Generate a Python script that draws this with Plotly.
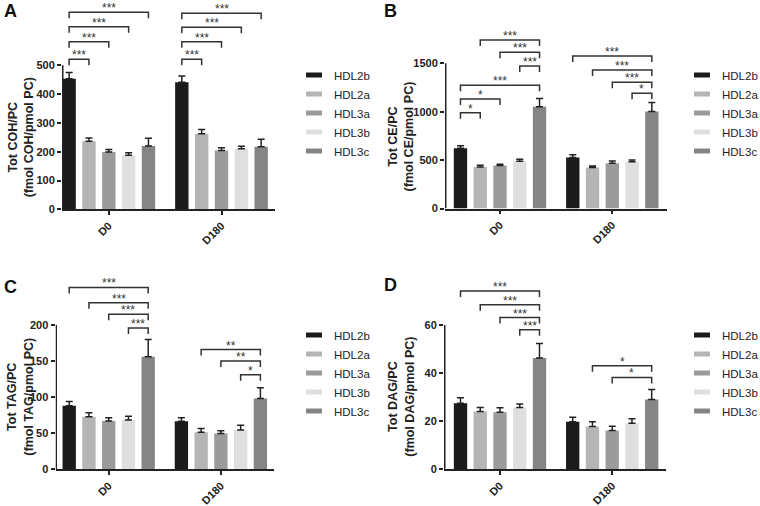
import plotly.graph_objects as go

W, H = 760, 506
FONT = "Liberation Sans, Arial, sans-serif"
INK = "#222222"

# ---------------- data ----------------
series = ["HDL2b", "HDL2a", "HDL3a", "HDL3b", "HDL3c"]
series_colors = ["#1b1b1b", "#b5b5b5", "#9b9b9b", "#dfdfdf", "#858585"]
days = ["D0", "D180"]

# Panel A: Tot COH/PC
coh_d0 = [453, 236, 199, 188, 220]
coh_d0_err = [22, 12, 9, 8, 27]
coh_d180 = [441, 262, 204, 210, 217]
coh_d180_err = [22, 15, 10, 9, 26]

# Panel B: Tot CE/PC
ce_d0 = [622, 430, 443, 488, 1052]
ce_d0_err = [27, 18, 14, 20, 85]
ce_d180 = [527, 423, 468, 482, 1003]
ce_d180_err = [27, 16, 22, 20, 92]

# Panel C: Tot TAG/PC
tag_d0 = [88, 73, 67, 68.5, 156]
tag_d0_err = [6, 5.5, 4.5, 5, 24]
tag_d180 = [66.5, 51.5, 49.5, 54.5, 98]
tag_d180_err = [5, 5, 4, 6.5, 15]

# Panel D: Tot DAG/PC
dag_d0 = [27.5, 24, 23.7, 25.7, 46.3]
dag_d0_err = [2.2, 1.7, 1.9, 1.5, 6]
dag_d180 = [19.8, 17.8, 16.1, 19.1, 29]
dag_d180_err = [1.8, 2, 1.8, 1.9, 4.2]

# significance brackets: (day index, from series, to series, label, bracket height in data units)
coh_brackets = [(0, 0, 1, "***", 521), (0, 0, 2, "***", 582), (0, 0, 3, "***", 634), (0, 0, 4, "***", 684),
                (1, 0, 1, "***", 521), (1, 0, 2, "***", 582), (1, 0, 3, "***", 632), (1, 0, 4, "***", 681)]
ce_brackets = [(0, 0, 1, "*", 990), (0, 0, 2, "*", 1131), (0, 0, 4, "***", 1273), (0, 3, 4, "***", 1472),
               (0, 2, 4, "***", 1614), (0, 1, 4, "***", 1741),
               (1, 3, 4, "*", 1190), (1, 2, 4, "***", 1304), (1, 1, 4, "***", 1431), (1, 0, 4, "***", 1575)]
tag_brackets = [(0, 3, 4, "***", 196), (0, 2, 4, "***", 215), (0, 1, 4, "***", 231), (0, 0, 4, "***", 252),
                (1, 3, 4, "*", 131), (1, 2, 4, "**", 150), (1, 1, 4, "**", 166)]
dag_brackets = [(0, 3, 4, "***", 58.0), (0, 2, 4, "***", 63.1), (0, 1, 4, "***", 68.4), (0, 0, 4, "***", 74.1),
                (1, 2, 4, "*", 38.2), (1, 1, 4, "*", 43.1)]

# ---------------- layout (pixels) ----------------
panels = [
    dict(letter="A", title="Tot COH/PC<br>(fmol COH/pmol PC)",
         d0=coh_d0, d0e=coh_d0_err, d180=coh_d180, d180e=coh_d180_err, brackets=coh_brackets,
         tickmax=500, dtick=100,
         ax_left=62, ax_right=275, g0_px=108.8, unit_px=112.7,
         y0_px=209.3, ytick_px=65.3, top_px=0,
         title_cx=21, letter_xy=(10, 11.5), legend_xy=(294, 60.5)),
    dict(letter="B", title="Tot CE/PC<br>(fmol CE/pmol PC)",
         d0=ce_d0, d0e=ce_d0_err, d180=ce_d180, d180e=ce_d180_err, brackets=ce_brackets,
         tickmax=1500, dtick=500,
         ax_left=445, ax_right=667, g0_px=500, unit_px=112.3,
         y0_px=208.5, ytick_px=63.3, top_px=0,
         title_cx=400.5, letter_xy=(390, 11.5), legend_xy=(682, 60.5)),
    dict(letter="C", title="Tot TAG/PC<br>(fmol TAG/pmol PC)",
         d0=tag_d0, d0e=tag_d0_err, d180=tag_d180, d180e=tag_d180_err, brackets=tag_brackets,
         tickmax=200, dtick=50,
         ax_left=55.5, ax_right=274, g0_px=108.7, unit_px=112.2,
         y0_px=469.3, ytick_px=325, top_px=253,
         title_cx=20.5, letter_xy=(10, 286.5), legend_xy=(294, 320.5)),
    dict(letter="D", title="Tot DAG/PC<br>(fmol DAG/pmol PC)",
         d0=dag_d0, d0e=dag_d0_err, d180=dag_d180, d180e=dag_d180_err, brackets=dag_brackets,
         tickmax=60, dtick=20,
         ax_left=444, ax_right=666, g0_px=500, unit_px=112.2,
         y0_px=469.3, ytick_px=325, top_px=253,
         title_cx=401.5, letter_xy=(390, 284.5), legend_xy=(682, 320.5)),
]

BARGAP = 0.12
BARGROUPGAP = 0.325
LEG_PX = 6

fig = go.Figure()
layout = dict(
    width=W, height=H,
    margin=dict(l=0, r=0, t=0, b=0, autoexpand=False),
    paper_bgcolor="white", plot_bgcolor="white",
    barmode="group", bargap=BARGAP, bargroupgap=BARGROUPGAP,
    font=dict(family=FONT, color=INK),
    showlegend=True,
)
shapes, annotations = [], []
xpos = list(range(len(days)))

for i, p in enumerate(panels):
    n = "" if i == 0 else str(i + 1)
    xa, ya, leg = "x" + n, "y" + n, "legend" + n
    for k, s in enumerate(series):
        fig.add_trace(go.Bar(
            x=xpos, y=[p["d0"][k], p["d180"][k]], name=s,
            marker=dict(color=series_colors[k], line=dict(width=0)),
            error_y=dict(type="data", symmetric=False,
                         array=[p["d0e"][k], p["d180e"][k]], arrayminus=[0, 0],
                         color=INK, thickness=1.5, width=3.5),
            xaxis=xa, yaxis=ya, showlegend=False, hoverinfo="skip",
        ))
    # legend-only entries with wide rectangular swatches
    for k, s in enumerate(series):
        fig.add_trace(go.Scatter(
            x=[None], y=[None], mode="markers", name=s,
            marker=dict(symbol="line-ew", size=11.4, color=series_colors[k],
                        line=dict(width=6, color=series_colors[k])),
            xaxis=xa, yaxis=ya, legend=leg, hoverinfo="skip",
        ))

    ppu = (p["y0_px"] - p["ytick_px"]) / p["tickmax"]       # pixels per data unit (y)
    ytop = (p["y0_px"] - p["top_px"]) / ppu
    xr0 = (p["ax_left"] - p["g0_px"]) / p["unit_px"]
    xr1 = (p["ax_right"] - p["g0_px"]) / p["unit_px"]

    layout["xaxis" + n] = dict(
        domain=[p["ax_left"] / W, p["ax_right"] / W], range=[xr0, xr1], anchor=ya,
        tickmode="array", tickvals=xpos, ticktext=days, tickangle=-45,
        showline=True, linecolor=INK, linewidth=1.5,
        ticks="outside", ticklen=4, tickwidth=1.5, tickcolor=INK,
        showgrid=False, zeroline=False,
        tickfont=dict(family=FONT, size=11, color=INK, weight="bold"),
    )
    layout["yaxis" + n] = dict(
        domain=[1 - p["y0_px"] / H, 1 - p["top_px"] / H], range=[0, ytop], anchor=xa,
        tickmode="array", tickvals=list(range(0, p["tickmax"] + 1, p["dtick"])),
        showline=False, ticks="outside", ticklen=4, tickwidth=1.5, tickcolor=INK,
        showgrid=False, zeroline=False,
        tickfont=dict(family=FONT, size=11, color=INK, weight="bold"),
    )
    # y axis line only up to the top tick
    xline = xr0 + 0.75 / p["unit_px"]
    shapes.append(dict(type="line", xref=xa, yref=ya, x0=xline, x1=xline, y0=0, y1=p["tickmax"],
                       line=dict(color=INK, width=1.5)))

    # brackets
    slot = (1 - BARGAP) / len(series)
    def center(g, k):
        return g - (1 - BARGAP) / 2 + (k + 0.5) * slot
    leg_len = LEG_PX / ppu
    for (g, a, b, lab, yb) in p["brackets"]:
        x1, x2 = center(g, a), center(g, b)
        shapes.append(dict(type="path", xref=xa, yref=ya,
                           path=f"M {x1},{yb - leg_len} L {x1},{yb} L {x2},{yb} L {x2},{yb - leg_len}",
                           line=dict(color="#333333", width=1.5)))
        annotations.append(dict(xref=xa, yref=ya, x=(x1 + x2) / 2, y=yb, text=lab, showarrow=False,
                                xanchor="center", yanchor="bottom", yshift=-5,
                                font=dict(family=FONT, size=12, color="#333333")))

    # y title
    annotations.append(dict(xref="paper", yref=ya, x=p["title_cx"] / W, y=p["tickmax"] / 2,
                            text=p["title"], showarrow=False, textangle=-90,
                            xanchor="center", yanchor="middle",
                            font=dict(family=FONT, size=12.5, color=INK, weight="bold")))
    # panel letter
    lx, ly = p["letter_xy"]
    annotations.append(dict(xref="paper", yref="paper", x=lx / W, y=1 - ly / H, text=p["letter"],
                            showarrow=False, xanchor="center", yanchor="middle",
                            font=dict(family=FONT, size=18, color="#111111", weight="bold")))
    gx, gy = p["legend_xy"]
    layout[leg] = dict(x=gx / W, y=1 - gy / H, xanchor="left", yanchor="top",
                       font=dict(family=FONT, size=11.5, color=INK),
                       bgcolor="rgba(0,0,0,0)", borderwidth=0, tracegroupgap=0,
                       itemwidth=30, traceorder="normal")

layout["shapes"] = shapes
layout["annotations"] = annotations
fig.update_layout(**layout)
fig.write_html("out.html", config={"displayModeBar": False},
               post_script="document.body.style.margin='0px';document.body.style.overflow='hidden';")
